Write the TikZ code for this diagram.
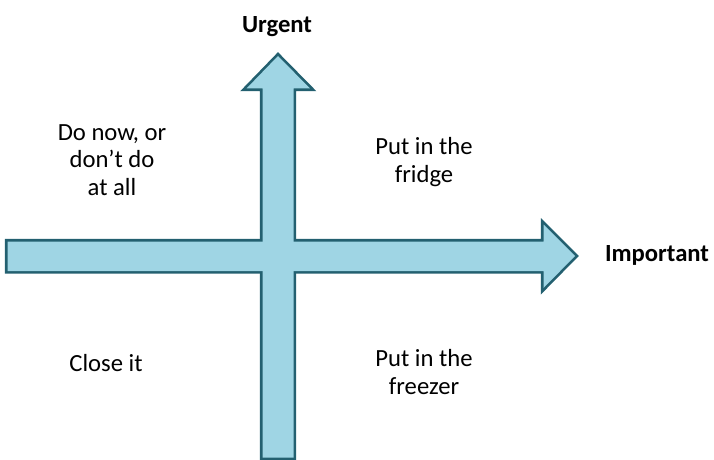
\documentclass[tikz,border=0pt]{standalone}
\usepackage{fontspec}
\setmainfont{Carlito}
\definecolor{arrowfill}{RGB}{159,213,228}
\definecolor{arrowedge}{RGB}{35,96,112}
\tikzset{
  arrowline/.style={draw=arrowedge,line width=4pt,line join=miter},
  arrowbody/.style={fill=arrowfill},
  quadtext/.style={align=center,font=\fontsize{18.5}{20.5}\selectfont},
  axistext/.style={font=\fontsize{18.5}{20.5}\selectfont\bfseries}
}
\begin{document}
\begin{tikzpicture}[x=0.75pt,y=-0.75pt]
    \useasboundingbox (0,0) rectangle (714,460);

    % Arrows: outlines first, then the fill hides the inner half and the crossing
    \path[arrowline] (262.5,457.5) -- (262.5,88.5) -- (246.5,88.5) -- (278,56)
        -- (310,88.5) -- (293.5,88.5) -- (293.5,457.5) -- cycle;
    \path[arrowline] (7.5,241.5) -- (543.5,241.5) -- (543.5,224.5) -- (575,256)
        -- (543.5,288) -- (543.5,271) -- (7.5,271) -- cycle;
    \path[arrowbody] (262.5,457.5) -- (262.5,88.5) -- (246.5,88.5) -- (278,56)
        -- (310,88.5) -- (293.5,88.5) -- (293.5,457.5) -- cycle;
    \path[arrowbody] (7.5,241.5) -- (543.5,241.5) -- (543.5,224.5) -- (575,256)
        -- (543.5,288) -- (543.5,271) -- (7.5,271) -- cycle;

    % Axis labels
    \node[axistext] (urgent) at (277,27) {Urgent};
    \node[axistext] (important) at (657,255) {Important};

    % Quadrants
    \node[quadtext] (donow) at (112,160) {Do now, or\\don’t do\\at all};
    \node[quadtext] (fridge) at (424,162) {Put in the\\fridge};
    \node[quadtext] (close) at (106,363) {Close it};
    \node[quadtext] (freezer) at (424,372) {Put in the\\freezer};
\end{tikzpicture}
\end{document}
